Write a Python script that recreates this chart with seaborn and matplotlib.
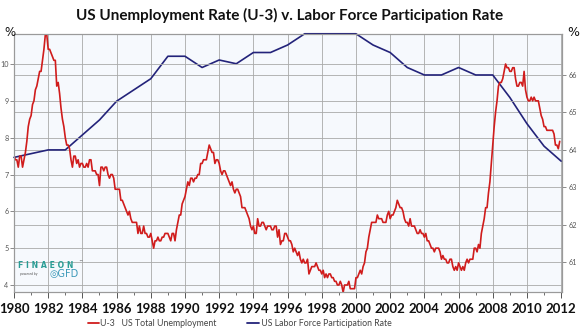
import numpy as np
import pandas as pd
import matplotlib
matplotlib.use("Agg")
import matplotlib.pyplot as plt
import seaborn as sns

# ---- data ----
# Monthly U-3 unemployment (%), plotted from 1980.0 onwards, one value per month
u3_start_year = 1980
u3_values = [
    7.5, 7.4, 7.4, 7.2, 7.5, 7.5, 7.2, 7.4, 7.6, 7.9, 8.3, 8.5,
    8.6, 8.9, 9.0, 9.3, 9.4, 9.6, 9.8, 9.8, 10.1, 10.4, 10.8, 10.8,
    10.4, 10.4, 10.3, 10.2, 10.1, 10.1, 9.4, 9.5, 9.2, 8.8, 8.5, 8.3,
    8.0, 7.8, 7.8, 7.7, 7.4, 7.2, 7.5, 7.5, 7.3, 7.4, 7.2, 7.3,
    7.3, 7.2, 7.2, 7.3, 7.2, 7.4, 7.4, 7.1, 7.1, 7.1, 7.0, 7.0,
    6.7, 7.2, 7.2, 7.1, 7.2, 7.2, 7.0, 6.9, 7.0, 7.0, 6.9, 6.6,
    6.6, 6.6, 6.6, 6.3, 6.3, 6.2, 6.1, 6.0, 5.9, 6.0, 5.8, 5.7,
    5.7, 5.7, 5.7, 5.4, 5.6, 5.4, 5.4, 5.6, 5.4, 5.4, 5.3, 5.3,
    5.4, 5.2, 5.0, 5.2, 5.2, 5.3, 5.2, 5.2, 5.3, 5.3, 5.4, 5.4,
    5.4, 5.3, 5.2, 5.4, 5.4, 5.2, 5.5, 5.7, 5.9, 5.9, 6.2, 6.3,
    6.4, 6.6, 6.8, 6.7, 6.9, 6.9, 6.8, 6.9, 6.9, 7.0, 7.0, 7.3,
    7.3, 7.4, 7.4, 7.4, 7.6, 7.8, 7.7, 7.6, 7.6, 7.3, 7.4, 7.4,
    7.3, 7.1, 7.0, 7.1, 7.1, 7.0, 6.9, 6.8, 6.7, 6.8, 6.6, 6.5,
    6.6, 6.6, 6.5, 6.4, 6.1, 6.1, 6.1, 6.0, 5.9, 5.8, 5.6, 5.5,
    5.6, 5.4, 5.4, 5.8, 5.6, 5.6, 5.7, 5.7, 5.6, 5.5, 5.6, 5.6,
    5.6, 5.5, 5.5, 5.6, 5.6, 5.3, 5.5, 5.1, 5.2, 5.2, 5.4, 5.4,
    5.3, 5.2, 5.2, 5.1, 4.9, 5.0, 4.9, 4.8, 4.9, 4.7, 4.6, 4.7,
    4.6, 4.6, 4.7, 4.3, 4.4, 4.5, 4.5, 4.5, 4.6, 4.5, 4.4, 4.4,
    4.3, 4.4, 4.2, 4.3, 4.2, 4.3, 4.3, 4.2, 4.2, 4.1, 4.1, 4.0,
    4.0, 4.1, 4.0, 3.8, 4.0, 4.0, 4.0, 4.1, 3.9, 3.9, 3.9, 3.9,
    4.2, 4.2, 4.3, 4.4, 4.3, 4.5, 4.6, 4.9, 5.0, 5.3, 5.5, 5.7,
    5.7, 5.7, 5.7, 5.9, 5.8, 5.8, 5.8, 5.7, 5.7, 5.7, 5.9, 6.0,
    5.8, 5.9, 5.9, 6.0, 6.1, 6.3, 6.2, 6.1, 6.1, 6.0, 5.8, 5.7,
    5.7, 5.6, 5.8, 5.6, 5.6, 5.6, 5.5, 5.4, 5.4, 5.5, 5.4, 5.4,
    5.3, 5.4, 5.2, 5.2, 5.1, 5.0, 5.0, 4.9, 5.0, 5.0, 5.0, 4.9,
    4.7, 4.8, 4.7, 4.7, 4.6, 4.6, 4.7, 4.7, 4.5, 4.4, 4.5, 4.4,
    4.6, 4.5, 4.4, 4.5, 4.4, 4.6, 4.7, 4.6, 4.7, 4.7, 4.7, 5.0,
    5.0, 4.9, 5.1, 5.0, 5.4, 5.6, 5.8, 6.1, 6.1, 6.5, 6.8, 7.3,
    7.8, 8.3, 8.7, 9.0, 9.4, 9.5, 9.5, 9.6, 9.8, 10.0, 9.9, 9.9,
    9.8, 9.8, 9.9, 9.9, 9.6, 9.4, 9.4, 9.5, 9.5, 9.4, 9.8, 9.3,
    9.1, 9.0, 9.0, 9.1, 9.0, 9.1, 9.0, 9.0, 9.0, 8.8, 8.6, 8.5,
    8.3, 8.3, 8.2, 8.2, 8.2, 8.2, 8.2, 8.1, 7.8, 7.8, 7.7, 7.9,
]

# Annual labor force participation rate (%)
lfpr_years = list(range(1980, 2013))
lfpr_values = [63.8, 63.9, 64.0, 64.0, 64.4, 64.8, 65.3, 65.6, 65.9, 66.5,
               66.5, 66.2, 66.4, 66.3, 66.6, 66.6, 66.8, 67.1, 67.1, 67.1,
               67.1, 66.8, 66.6, 66.2, 66.0, 66.0, 66.2, 66.0, 66.0, 65.4,
               64.7, 64.1, 63.7]

title = "US Unemployment Rate (U-3) v. Labor Force Participation Rate"
x_ticks = list(range(1980, 2013, 2))
left_ticks = [4, 5, 6, 7, 8, 9, 10]
right_ticks = [61, 62, 63, 64, 65, 66]
legend_u3 = "U-3   US Total Unemployment"
legend_lf = " US Labor Force Participation Rate"

# ---- frames ----
u3_df = pd.DataFrame({
    "year": [u3_start_year + i / 12 for i in range(len(u3_values))],
    "rate": u3_values,
})
lf_df = pd.DataFrame({"year": lfpr_years, "rate": lfpr_values})

sns.set_style("white")
plt.rcParams["font.family"] = ["Lato", "DejaVu Sans"]

RED = "#d01c1c"
NAVY = "#23237a"
GRID = "#a9a9a9"

fig = plt.figure(figsize=(5.8, 3.36), dpi=100)
ax2 = fig.add_axes([14 / 580, 1 - 292 / 336, (562 - 14) / 580, (292 - 34) / 336])
ax = ax2.twinx()
ax.set_zorder(ax2.get_zorder() + 1)
ax.patch.set_visible(False)
ax2.set_facecolor("#f6f9fd")

sns.lineplot(data=lf_df, x="year", y="rate", ax=ax2, color=NAVY, lw=1.2)
sns.lineplot(data=u3_df, x="year", y="rate", ax=ax, color=RED, lw=1.2)
for ln in ax2.lines:
    ln.set_clip_on(False)

ax.set_xlim(1980, 2012.05)
ax.set_ylim(3.81, 10.815)
ax2.set_ylim(60.207, 67.094)

ax.yaxis.tick_left()
ax.yaxis.set_label_position("left")
ax2.yaxis.tick_right()
ax2.yaxis.set_label_position("right")

ax.set_yticks(left_ticks)
ax.set_yticklabels([str(v) for v in left_ticks])
ax2.set_yticks(right_ticks)
ax2.set_yticklabels([str(v) for v in right_ticks])

ax2.set_xticks(x_ticks)
ax2.set_xticklabels([str(v) for v in x_ticks])
ax2.set_xticks(list(range(1980, 2013)), minor=True)

for a in (ax, ax2):
    a.set_xlabel("")
    a.set_ylabel("")
    for s in a.spines.values():
        s.set_color("#9a9a9a")
        s.set_linewidth(0.8)

ax2.grid(True, which="major", axis="both", color=GRID, lw=0.6)
ax.grid(True, which="major", axis="y", color=GRID, lw=0.6)
ax.set_axisbelow(True)
ax.tick_params(axis="x", which="both", bottom=False, labelbottom=False)

ax.tick_params(axis="y", which="major", left=True, length=3, width=0.6,
               color="#777777", labelsize=5.2, labelcolor="#555555", pad=1)
ax2.tick_params(axis="y", which="major", right=True, length=3, width=0.6,
                color="#777777", labelsize=5.2, labelcolor="#555555", pad=2)
ax2.tick_params(axis="x", which="major", bottom=True, length=4, width=0.7,
                color="#555555", labelsize=9.5, pad=4)
ax2.tick_params(axis="x", which="minor", bottom=True, length=2.5, width=0.6,
                color="#555555")
for lab in ax2.get_xticklabels():
    lab.set_fontweight("bold")
    lab.set_color("#111111")

if ax.get_legend():
    ax.get_legend().remove()
if ax2.get_legend():
    ax2.get_legend().remove()

# title and unit labels
fig.text(0.5, 1 - 15 / 336, title, ha="center", va="center",
         fontsize=11, fontweight="bold", color="#111111")
fig.text(4 / 580, 1 - 33 / 336, "%", ha="left", va="center", fontsize=8.5,
         color="#111111", family="DejaVu Sans")
fig.text(567 / 580, 1 - 32 / 336, "%", ha="left", va="center", fontsize=9,
         color="#111111", family="DejaVu Sans")

# logo
fig.text(18 / 580, 1 - 265 / 336, "F I N A E O N", ha="left", va="center",
         fontsize=5.6, fontweight="bold", color="#2a9d95", family="DejaVu Sans")
fig.text(78 / 580, 1 - 262 / 336, "\u2122", ha="left", va="center",
         fontsize=3, color="#333333", family="DejaVu Sans")
fig.text(20 / 580, 1 - 274 / 336, "powered by", ha="left", va="center",
         fontsize=2.6, color="#555555", style="italic")
fig.text(49 / 580, 1 - 274 / 336, "\u25CEGFD", ha="left", va="center",
         fontsize=7, color="#3a98b8", family="DejaVu Sans")

# legend
leg_y = 1 - 323 / 336
fig.lines.append(plt.Line2D([88 / 580, 99 / 580], [leg_y, leg_y],
                            transform=fig.transFigure, color=RED, lw=1.3))
fig.text(100 / 580, leg_y, legend_u3, ha="left", va="center",
         fontsize=6.3, color="#444444")
fig.lines.append(plt.Line2D([247 / 580, 259 / 580], [leg_y, leg_y],
                            transform=fig.transFigure, color=NAVY, lw=1.3))
fig.text(259 / 580, leg_y, legend_lf, ha="left", va="center",
         fontsize=6.3, color="#444444")

fig.savefig("out.png", dpi=100)
